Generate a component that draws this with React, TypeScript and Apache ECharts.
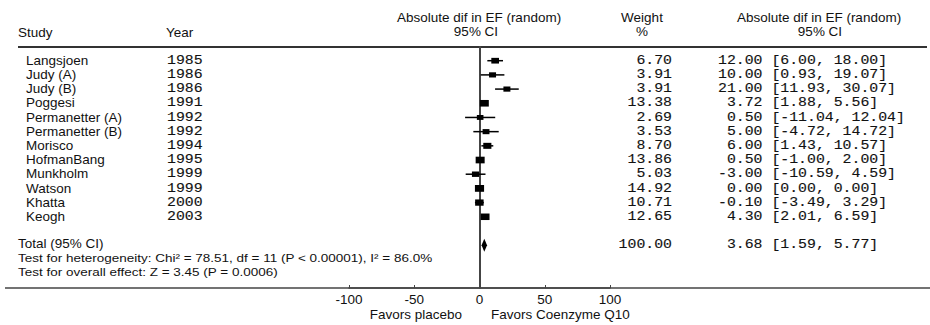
import React, { useEffect, useRef } from "react";
import * as echarts from "echarts";

// ---- data ----
const studies = [
  "Langsjoen", "Judy (A)", "Judy (B)", "Poggesi", "Permanetter (A)", "Permanetter (B)",
  "Morisco", "HofmanBang", "Munkholm", "Watson", "Khatta", "Keogh",
];
const years = ["1985", "1986", "1986", "1991", "1992", "1992", "1994", "1995", "1999", "1999", "2000", "2003"];
const weights = [6.7, 3.91, 3.91, 13.38, 2.69, 3.53, 8.7, 13.86, 5.03, 14.92, 10.71, 12.65];
const estimates = [12.0, 10.0, 21.0, 3.72, 0.5, 5.0, 6.0, 0.5, -3.0, 0.0, -0.1, 4.3];
const lowers = [6.0, 0.93, 11.93, 1.88, -11.04, -4.72, 1.43, -1.0, -10.59, 0.0, -3.49, 2.01];
const uppers = [18.0, 19.07, 30.07, 5.56, 12.04, 14.72, 10.57, 2.0, 4.59, 0.0, 3.29, 6.59];
const totalLabel = "Total (95% CI)";
const totalWeight = 100.0;
const totalEstimate = 3.68;
const totalLower = 1.59;
const totalUpper = 5.77;
const totalRow = 13;
const xTicks = [-100, -50, 0, 50, 100];
const heterogeneityText = "Test for heterogeneity: Chi² = 78.51, df = 11 (P < 0.00001), I² = 86.0%";
const overallText = "Test for overall effect: Z = 3.45 (P = 0.0006)";
const favorsLeft = "Favors placebo";
const favorsRight = "Favors Coenzyme Q10";

const SANS = "'Liberation Sans', Arial, sans-serif";
const MONO = "'Liberation Mono', 'Courier New', monospace";
const SANS_SIZE = 12;
const SANS_SCALE = 13.5 / 12;
const MONO_SIZE = 12.2;
const CH = 8.9; // monospace advance after horizontal scaling
const MONO_SCALE = CH / (MONO_SIZE * 0.6);
const INK = "#000";

const fmt = (v: number) => v.toFixed(2);

export default function App() {
  const ref = useRef<HTMLDivElement>(null);
  useEffect(() => {
    if (!ref.current) return;
    const chart = echarts.init(ref.current, null, { renderer: "svg" });

    const forestData = studies.map((_, i) => [i, estimates[i], lowers[i], uppers[i], weights[i]]);
    const textData = studies.map((_, i) => [i, estimates[i], lowers[i], uppers[i], weights[i]]);
    textData.push([totalRow, totalEstimate, totalLower, totalUpper, totalWeight]);

    const sansText = (x: number, y: number, text: string, align = "left", size = SANS_SIZE) => ({
      type: "text",
      x,
      y,
      scaleX: (SANS_SIZE * SANS_SCALE) / size,
      style: { text, fill: "#111", fontFamily: SANS, fontSize: size, align, verticalAlign: "middle" },
    });
    const monoText = (x: number, y: number, text: string, align = "left") => ({
      type: "text",
      x,
      y,
      scaleX: MONO_SCALE,
      style: {
        text,
        fill: "#111",
        stroke: "#111",
        lineWidth: 0.12,
        fontFamily: MONO,
        fontSize: MONO_SIZE,
        align,
        verticalAlign: "middle",
      },
    });

    const option: any = {
      animation: false,
      backgroundColor: "#fff",
      grid: { left: 349, right: 320, top: 47, bottom: 37, containLabel: false },
      xAxis: {
        type: "value",
        min: -100,
        max: 100,
        interval: 50,
        axisLine: { show: true, onZero: false, lineStyle: { color: "#444", width: 1.5 } },
        axisTick: { show: true, inside: true, length: 3, lineStyle: { color: "#444" } },
        axisLabel: {
          color: "#111",
          fontFamily: SANS,
          fontSize: 13.5,
          margin: 4,
          customValues: xTicks,
        },
        splitLine: { show: false },
      },
      yAxis: {
        type: "value",
        inverse: true,
        min: -0.966,
        max: 16.02,
        axisLine: { show: true, onZero: true, lineStyle: { color: "#444", width: 2 } },
        axisTick: { show: false },
        axisLabel: { show: false },
        splitLine: { show: false },
      },
      graphic: [
        { type: "line", shape: { x1: 18, y1: 47, x2: 927, y2: 47 }, style: { stroke: "#333", lineWidth: 2 } },
        { type: "line", shape: { x1: 5, y1: 288, x2: 930, y2: 288 }, style: { stroke: "#444", lineWidth: 1.5 } },
        sansText(18, 33, "Study"),
        sansText(166, 33, "Year"),
        sansText(479, 18, "Absolute dif in EF (random)", "center"),
        sansText(476, 32, "95% CI", "center"),
        sansText(642, 18, "Weight", "center"),
        sansText(642, 32, "%", "center"),
        sansText(819, 18, "Absolute dif in EF (random)", "center"),
        sansText(820, 32, "95% CI", "center"),
        sansText(18, 258.5, heterogeneityText, "left", 11.5),
        sansText(18, 272, overallText, "left", 11.5),
        sansText(462, 315, favorsLeft, "right"),
        sansText(491, 315, favorsRight),
      ],
      series: [
        {
          type: "custom",
          clip: false,
          data: forestData,
          encode: { x: [1, 2, 3], y: 0 },
          renderItem: (_p: any, api: any) => {
            const i = api.value(0);
            const pLo = api.coord([api.value(2), i]);
            const pHi = api.coord([api.value(3), i]);
            const pE = api.coord([api.value(1), i]);
            const h = 3.5 + Math.sqrt(api.value(4)) * 0.85;
            const bw = h * 1.35;
            return {
              type: "group",
              children: [
                {
                  type: "line",
                  shape: { x1: pLo[0], y1: pLo[1], x2: pHi[0], y2: pHi[1] },
                  style: { stroke: INK, lineWidth: 1.5 },
                },
                {
                  type: "rect",
                  shape: { x: pE[0] - bw / 2, y: pE[1] - h / 2, width: bw, height: h },
                  style: { fill: INK },
                },
              ],
            };
          },
          z: 5,
        },
        {
          type: "custom",
          clip: false,
          data: [[totalRow, totalEstimate, totalLower, totalUpper]],
          encode: { x: [1, 2, 3], y: 0 },
          renderItem: (_p: any, api: any) => {
            const i = api.value(0);
            const pLo = api.coord([api.value(2), i]);
            const pHi = api.coord([api.value(3), i]);
            const pE = api.coord([api.value(1), i]);
            return {
              type: "polygon",
              shape: {
                points: [
                  [pLo[0], pLo[1]],
                  [pE[0], pE[1] - 6.5],
                  [pHi[0], pHi[1]],
                  [pE[0], pE[1] + 6.5],
                ],
              },
              style: { fill: INK },
            };
          },
          z: 5,
        },
        {
          type: "custom",
          clip: false,
          silent: true,
          data: textData,
          encode: { y: 0 },
          renderItem: (p: any, api: any) => {
            const idx = p.dataIndex;
            const i = api.value(0);
            const y = api.coord([0, i])[1];
            const isTotal = idx >= studies.length;
            const est = fmt(api.value(1));
            const ci = "[" + fmt(api.value(2)) + ", " + fmt(api.value(3)) + "]";
            const estRight = 718 + 5 * CH;
            const children: any[] = [];
            if (isTotal) {
              children.push(sansText(18, y - 1.5, totalLabel));
            } else {
              children.push(sansText(26, y, studies[idx]));
              children.push(monoText(167, y, years[idx]));
            }
            children.push(monoText(672, y, fmt(api.value(4)), "right"));
            children.push(monoText(estRight, y, est, "right"));
            children.push(monoText(estRight + CH, y, ci, "left"));
            return { type: "group", children };
          },
          z: 4,
        },
      ],
    };
    chart.setOption(option);
    return () => chart.dispose();
  }, []);

  return (
    <div
      ref={ref}
      style={{ position: "fixed", left: 0, top: 0, width: 930, height: 325, background: "#fff" }}
    />
  );
}
